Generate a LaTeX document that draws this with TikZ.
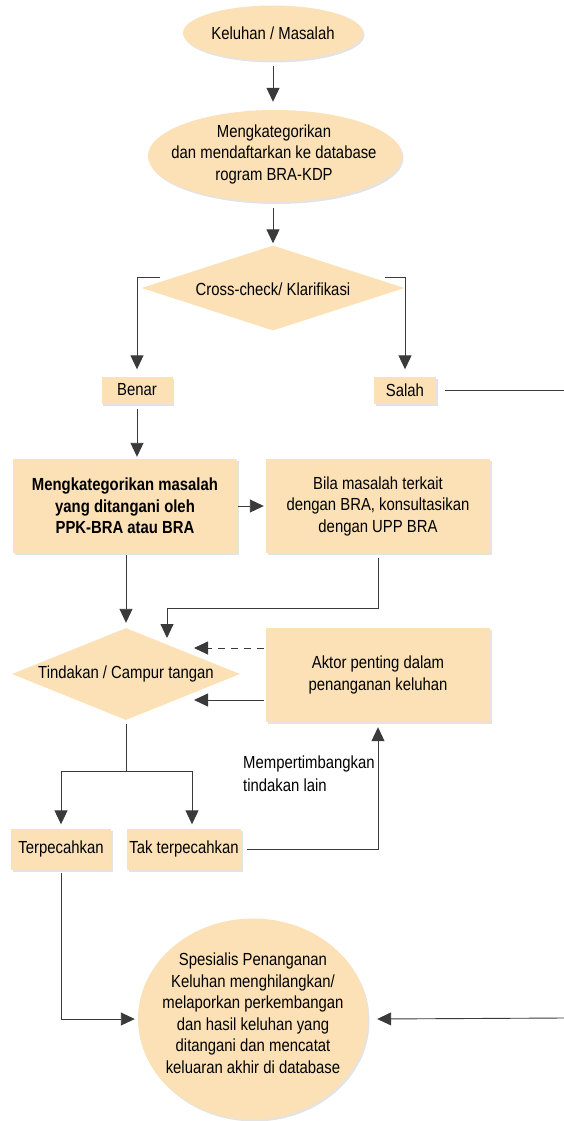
\documentclass[tikz,border=0pt]{standalone}
\usepackage{fontspec}
\setmainfont[FakeStretch=0.85]{Liberation Sans}
\usetikzlibrary{shapes.geometric,arrows.meta,shadows}
\definecolor{peach}{HTML}{FCE1B6}
\definecolor{lineg}{HTML}{3A3A3A}
\newcommand{\txtsize}{\fontsize{17.5}{21.5}\selectfont}
\tikzset{
  shad/.style={drop shadow={shadow xshift=1.5pt, shadow yshift=-2pt, fill=black!18, opacity=0.6}},
  base/.style={fill=peach, draw=none, align=center, inner sep=0pt, font=\txtsize, shad},
  ell/.style={fill=peach, draw=none, ellipse, inner sep=0pt, shad},
  rbox/.style={base, rectangle},
  dia/.style={fill=peach, draw=none, diamond, inner sep=0pt},
  lbl/.style={align=center, inner sep=0pt, font=\txtsize},
  conn/.style={draw=lineg, line width=0.9pt},
  arr/.style={conn, -{Triangle[length=14pt,width=13pt]}},
}
\begin{document}
\begin{tikzpicture}[x=1pt,y=-1pt]
\useasboundingbox (0,0) rectangle (564,1121);
% nodes
\node[ell, minimum width=180pt, minimum height=55pt] (k) at (273,33) {};
\node[lbl] (kt) at (273,33) {Keluhan / Masalah};
\node[ell, minimum width=254pt, minimum height=92pt] (m) at (275,156) {};
\node[lbl] (mt) at (274,154) {Mengkategorikan\\dan mendaftarkan ke database\\rogram BRA-KDP};
\node[dia, minimum width=263pt, minimum height=85pt, aspect=3] (c) at (273,288) {};
\node[lbl] (ct) at (273,289) {Cross-check/ Klarifikasi};
\node[rbox, minimum width=71pt, minimum height=27pt] (b) at (137,390) {Benar};
\node[rbox, minimum width=62pt, minimum height=27pt] (s) at (405,390) {Salah};
\node[rbox, minimum width=224pt, minimum height=94pt, font=\txtsize\bfseries] (mk) at (125,506) {Mengkategorikan masalah\\yang ditangani oleh\\PPK-BRA atau BRA};
\node[rbox, minimum width=224pt, minimum height=94pt] (bm) at (378,506) {Bila masalah terkait\\dengan BRA, konsultasikan\\dengan UPP BRA};
\node[dia, minimum width=228pt, minimum height=92pt, aspect=2.5] (t) at (126,674) {};
\node[lbl] (tt) at (126,674) {Tindakan / Campur tangan};
\node[rbox, minimum width=224pt, minimum height=94pt] (ak) at (378,675) {Aktor penting dalam\\penanganan keluhan};
\node[rbox, minimum width=100pt, minimum height=41pt] (tp) at (61,849) {Terpecahkan};
\node[rbox, minimum width=114pt, minimum height=41pt] (tk) at (184,849) {Tak terpecahkan};
\node[ell, minimum width=230pt, minimum height=201pt] (sp) at (253,1019) {};
\node[lbl] (spt) at (253,1013) {Spesialis Penanganan\\Keluhan menghilangkan/\\melaporkan perkembangan\\dan hasil keluhan yang\\ditangani dan mencatat\\keluaran akhir di database};
\node[align=left, anchor=west, inner sep=0pt, font=\fontsize{17.5}{23}\selectfont] (mp) at (243,774) {Mempertimbangkan\\tindakan lain};
% coordinates
\coordinate (sR) at (564,390);
\coordinate (aR) at (564,1018);
\coordinate (cL) at (160,277);
\coordinate (cR) at (385,277);
\coordinate (j1) at (167,608);
\coordinate (j2) at (126,771);
\coordinate (jl) at (61,771);
\coordinate (jr) at (192,771);
% connectors
\draw[arr] ([yshift=-5pt]k.south) -- ([yshift=8pt]m.north -| k.south);
\draw[arr] ([yshift=-6pt]m.south -| c.north) -- ([yshift=2pt]c.north);
\draw[arr] (cL) -| ([yshift=7pt]b.north);
\draw[arr] (cR) -| ([yshift=7pt]s.north);
\draw[conn] ([xshift=9pt]s.east) -- (sR);
\draw[arr] ([yshift=-5pt]b.south) -- ([yshift=2pt]mk.north -| b.south);
\draw[arr] ([xshift=1pt]mk.east) -- ([xshift=-2pt]bm.west);
\draw[arr] ([yshift=-2pt]mk.south -| t.north) -- ([yshift=5pt]t.north);
\draw[arr] ([yshift=-5pt]bm.south) |- (j1) -- ++(0,30);
\draw[arr, dash pattern=on 7pt off 6pt] ([xshift=-2pt,yshift=27pt]ak.west) -- (194,648);
\draw[arr] ([xshift=-2pt,yshift=-25pt]ak.west) -- (194,700);
\draw[conn] ([yshift=-4pt]t.south) -- (j2);
\draw[conn] (jl) -- (jr);
\draw[arr] (jr) -- ([yshift=4pt]tk.north -| jr);
\draw[arr] (jl) -- ([yshift=4pt]tp.north -| jl);
\draw[arr] ([xshift=6pt]tk.east) -| ([yshift=-5pt]ak.south);
\draw[arr] ([yshift=-3pt]tp.south) |- ([xshift=-3pt]sp.west);
\draw[arr] (aR) -- ([xshift=9pt]sp.east);
\end{tikzpicture}
\end{document}
